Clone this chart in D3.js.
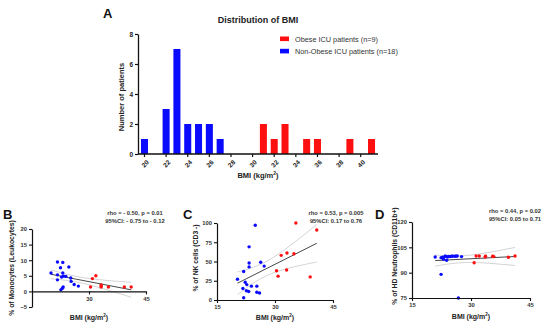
<!DOCTYPE html>
<html><head><meta charset="utf-8">
<script src="https://cdn.jsdelivr.net/npm/d3@7"></script>
<style>
body{margin:0;background:#fff}
svg{display:block}
text{font-family:"Liberation Sans",Arial,sans-serif}
</style>
</head><body>
<svg id="c" width="550" height="333"></svg>
<script>
// ---------- Panel A data ----------
const bmiBins = [20,21,22,23,24,25,26,27,28,29,30,31,32,33,34,35,36,37,38,39,40,41];
const nonObeseCounts = [1,0,3,7,2,2,2,1,0,0,0,0,0,0,0,0,0,0,0,0,0,0];
const obeseCounts    = [0,0,0,0,0,0,0,0,0,0,0,2,1,2,0,1,1,0,0,1,0,1];
const histTickLabels = [20,22,24,26,28,30,32,34,36,38,40];
const histYTicks = [0,2,4,6,8];
const legendLabels = ["Obese ICU patients (n=9)","Non-Obese ICU patients (n=18)"];

// ---------- Panel B data ----------
const bBlueX = [20.0,21.7,21.7,21.7,22.5,23.1,23.1,22.8,23.9,24.7,25.2,25.3,26.1,27.2,22.6,23.0,23.2,23.3];
const bBlueY = [5.9,9.4,5.3,3.7,7.6,9.3,5.9,4.6,4.8,7.8,4.3,3.2,2.2,1.7,0.5,1.0,1.4,4.9];
const bRedX  = [30.4,30.9,31.8,33.2,33.2,33.2,35.1,39.3,41.1];
const bRedY  = [1.4,4.1,5.0,2.1,1.4,1.7,1.4,1.4,1.4];
// ---------- Panel C data ----------
const cBlueX = [20.3,21.9,24.9,23.3,23.3,23.3,26.3,27.2,22.3,22.7,21.7,22.6,23.2,23.9,25.3,25.3,26.0,21.9];
const cBlueY = [27,37,97,69,48,43,49,44,23,20,15,12,11,18,18,10,9,3];
const cRedX  = [35.4,40.8,33.1,31.6,34.9,30.4,30.8,33.0,39.1];
const cRedY  = [100,91,61,58,60,38,31,39,30];
// ---------- Panel D data ----------
const dBlueX = [20.9,22.4,23.0,23.4,23.8,24.0,24.7,25.3,25.9,26.5,27.6,22.4,26.8,23.6,24.3,25.0,22.8,26.2];
const dBlueY = [99.3,98.9,97.9,99.7,97.3,99.3,99.5,99.7,99.7,99.9,99.5,89.0,75.0,99.6,99.6,99.8,99.2,99.8];
const dRedX  = [30.8,31.3,32.1,33.6,35.5,35.8,39.5,41.2,33.7];
const dRedY  = [95.9,99.9,99.9,99.3,99.7,99.5,99.1,99.9,99.7];

const BLUE = "#0a0aff", RED = "#ff1010", AX = "#111";
const svg = d3.select("#c");

// ================= Panel A =================
const xA = d3.scaleBand().domain(bmiBins).range([138,378]).paddingInner(0.35).paddingOuter(0.275);
const yA = d3.scaleLinear().domain([0,8]).range([154,34]);
const gA = svg.append("g");
gA.selectAll("rect.nb").data(bmiBins.map((b,i)=>({b,v:nonObeseCounts[i]})).filter(d=>d.v>0))
  .join("rect").attr("x",d=>xA(d.b)).attr("width",xA.bandwidth())
  .attr("y",d=>yA(d.v)).attr("height",d=>yA(0)-yA(d.v)).attr("fill",BLUE);
gA.selectAll("rect.ob").data(bmiBins.map((b,i)=>({b,v:obeseCounts[i]})).filter(d=>d.v>0))
  .join("rect").attr("x",d=>xA(d.b)).attr("width",xA.bandwidth())
  .attr("y",d=>yA(d.v)).attr("height",d=>yA(0)-yA(d.v)).attr("fill",RED);
// y axis
const yAxA = d3.axisLeft(yA).tickValues(histYTicks).tickSize(3).tickPadding(2).tickSizeOuter(0);
const gyA = gA.append("g").attr("transform","translate(138,0)").call(yAxA);
gyA.select(".domain").attr("stroke",AX).attr("stroke-width",1.3);
gyA.selectAll(".tick line").attr("stroke",AX).attr("stroke-width",1.2);
gyA.selectAll("text").attr("font-size",6.5).attr("font-weight","bold").attr("fill","#222");
// x axis
const gxA = gA.append("g").attr("transform","translate(0,154)");
gxA.append("line").attr("x1",138).attr("x2",378).attr("stroke",AX).attr("stroke-width",1.3);
gxA.selectAll("line.t").data(histTickLabels).join("line")
  .attr("x1",d=>xA(d)+xA.bandwidth()/2).attr("x2",d=>xA(d)+xA.bandwidth()/2)
  .attr("y1",0).attr("y2",3).attr("stroke",AX).attr("stroke-width",1.2);
gxA.selectAll("text").data(histTickLabels).join("text")
  .attr("transform",d=>`translate(${xA(d)+xA.bandwidth()/2+2},6) rotate(-45)`)
  .attr("text-anchor","end").attr("dy","0.6em").attr("font-size",6.5).attr("font-weight","bold").attr("fill","#222")
  .text(d=>d);
gA.append("text").attr("x",258).attr("y",178).attr("text-anchor","middle").attr("font-size",7.5).attr("font-weight","bold").attr("fill","#222")
  .html("BMI (kg/m<tspan dy='-3' font-size='5'>2</tspan><tspan dy='3'>)</tspan>");
gA.append("text").attr("transform","translate(124,97) rotate(-90)").attr("text-anchor","middle")
  .attr("font-size",7.5).attr("font-weight","bold").attr("fill","#222").text("Number of patients");
gA.append("text").attr("x",258).attr("y",23).attr("text-anchor","middle").attr("font-size",9).attr("font-weight","bold").attr("fill","#222").text("Distribution of BMI");
svg.append("text").attr("x",103).attr("y",18).attr("font-size",13).attr("font-weight","bold").attr("fill","#111").text("A");
// legend
const legColors = [RED, BLUE];
legendLabels.forEach((t,i)=>{
  gA.append("rect").attr("x",280).attr("y",36.5+i*12.3).attr("width",9).attr("height",4.6).attr("fill",legColors[i]);
  gA.append("text").attr("x",295).attr("y",39+i*12.3).attr("dy","0.35em").attr("font-size",7.3).attr("fill","#333").text(t);
});

// ================= Scatter panels =================
function scatterPanel(o){
  const g = svg.append("g");
  const x = d3.scaleLinear().domain([15,45]).range(o.xr);
  const y = d3.scaleLinear().domain(o.yd).range(o.yr);
  // regression
  const X = o.bx.concat(o.rx), Y = o.by.concat(o.ry), n = X.length;
  const mx = d3.mean(X), my = d3.mean(Y);
  let sxx=0, sxy=0; X.forEach((v,i)=>{sxx+=(v-mx)*(v-mx); sxy+=(v-mx)*(Y[i]-my);});
  const b = sxy/sxx, a = my-b*mx;
  let sse=0; X.forEach((v,i)=>{const r=Y[i]-(a+b*v); sse+=r*r;});
  const s = Math.sqrt(sse/(n-2)), t = 2.06;
  const x0 = d3.min(X), x1 = d3.max(X);
  const xs = d3.range(0,41).map(k=>x0+(x1-x0)*k/40);
  const band = sgn => xs.map(v=>[v, a+b*v + sgn*t*s*Math.sqrt(1/n+(v-mx)*(v-mx)/sxx)]);
  const ln = d3.line().x(d=>x(d[0])).y(d=>y(d[1])).curve(d3.curveMonotoneX);
  g.append("path").attr("d",ln(band(1))).attr("fill","none").attr("stroke","#c8c8c8").attr("stroke-width",0.8);
  g.append("path").attr("d",ln(band(-1))).attr("fill","none").attr("stroke","#c8c8c8").attr("stroke-width",0.8);
  g.append("path").attr("d",ln([[x0,a+b*x0],[x1,a+b*x1]])).attr("fill","none").attr("stroke","#333").attr("stroke-width",0.9);
  // points
  g.selectAll("circle.b").data(o.bx.map((v,i)=>[v,o.by[i]])).join("circle")
    .attr("cx",d=>x(d[0])).attr("cy",d=>y(d[1])).attr("r",1.7).attr("fill",BLUE);
  g.selectAll("circle.r").data(o.rx.map((v,i)=>[v,o.ry[i]])).join("circle")
    .attr("cx",d=>x(d[0])).attr("cy",d=>y(d[1])).attr("r",1.7).attr("fill",RED);
  // y axis
  const gy = g.append("g").attr("transform",`translate(${o.xr[0]},0)`)
    .call(d3.axisLeft(y).tickValues(o.yt).tickSize(3).tickPadding(2).tickSizeOuter(0));
  gy.select(".domain").attr("stroke",AX).attr("stroke-width",1.2);
  gy.selectAll(".tick line").attr("stroke",AX).attr("stroke-width",1.1);
  gy.selectAll("text").attr("font-size",5.8).attr("font-weight","bold").attr("fill","#333");
  // x axis
  const gx = g.append("g").attr("transform",`translate(0,${y(o.xAt)})`)
    .call(d3.axisBottom(x).tickValues(o.xt).tickSize(3).tickPadding(2).tickSizeOuter(0));
  gx.select(".domain").attr("stroke",AX).attr("stroke-width",1.2);
  gx.selectAll(".tick line").attr("stroke",AX).attr("stroke-width",1.1);
  gx.selectAll("text").attr("font-size",5.8).attr("font-weight","bold").attr("fill","#333");
  // labels
  g.append("text").attr("x",(o.xr[0]+o.xr[1])/2).attr("y",o.xlY).attr("text-anchor","middle")
    .attr("font-size",7).attr("font-weight","bold").attr("fill","#222")
    .html("BMI (kg/m<tspan dy='-3' font-size='4.5'>2</tspan><tspan dy='3'>)</tspan>");
  g.append("text").attr("transform",`translate(${o.ylX},${o.ylY}) rotate(-90)`).attr("text-anchor","middle")
    .attr("font-size",6.8).attr("font-weight","bold").attr("fill","#222").text(o.ylab);
  g.append("text").attr("x",o.lx).attr("y",219).attr("font-size",13).attr("font-weight","bold").attr("fill","#111").text(o.letter);
  o.stats.forEach((s,i)=>{
    g.append("text").attr("x",o.sx).attr("y",o.sy+i*8).attr("text-anchor","middle")
      .attr("font-size",5.8).attr("font-weight","bold").attr("fill","#333").text(s);
  });
}

scatterPanel({letter:"B", lx:3, xr:[32,146], yd:[-5,20], yr:[307,229], yt:[-5,0,5,10,15,20], xt:[30,45], xAt:0,
  bx:bBlueX, by:bBlueY, rx:bRedX, ry:bRedY, xlY:320, ylX:14, ylY:268, ylab:"% of Monocytes (Leukocytes)",
  sx:135, sy:215, stats:["rho = - 0.50, p = 0.01","95%CI: - 0.75 to - 0.12"]});
scatterPanel({letter:"C", lx:183, xr:[217,333], yd:[0,100], yr:[300,223], yt:[0,25,50,75,100], xt:[15,30,45], xAt:0,
  bx:cBlueX, by:cBlueY, rx:cRedX, ry:cRedY, xlY:320, ylX:198, ylY:258, ylab:"% of NK cells (CD3 -)",
  sx:336, sy:215, stats:["rho = 0.53, p = 0.005","95%CI: 0.17 to 0.76"]});
scatterPanel({letter:"D", lx:375, xr:[412,530], yd:[75,120], yr:[298,222], yt:[75,90,105,120], xt:[15,30,45], xAt:75,
  bx:dBlueX, by:dBlueY, rx:dRedX, ry:dRedY, xlY:319, ylX:397, ylY:256, ylab:"% of HD Neutrophils (CD11b+)",
  sx:515, sy:213, stats:["rho = 0.44, p = 0.02","95%CI: 0.05 to 0.71"]});
</script>
</body></html>
